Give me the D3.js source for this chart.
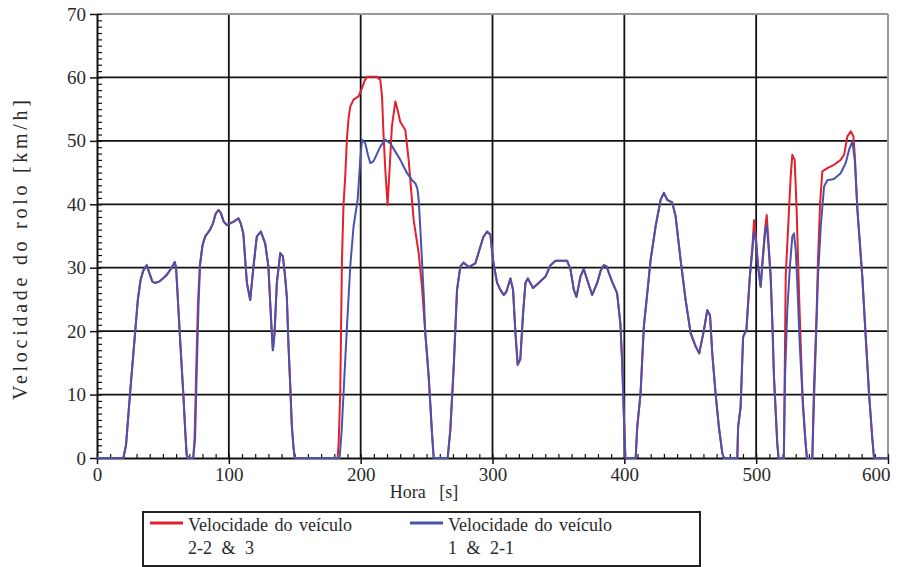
<!DOCTYPE html>
<html><head><meta charset="utf-8">
<script src="https://cdn.jsdelivr.net/npm/d3@7"></script>
<style>body{margin:0;background:#fff}svg{display:block}text{font-family:"Liberation Serif","Times New Roman",Times,"DejaVu Serif","Noto Serif",serif !important;fill:#2a2a2a}</style>
</head><body>
<svg id="c" width="898" height="567"></svg>
<script>
const xTicks = [0,100,200,300,400,500,600];
const yTicks = [0,10,20,30,40,50,60,70];
const seriesNames = ["Velocidade do veículo|2-2 & 3","Velocidade do veículo|1 & 2-1"];

// Velocidade do veículo 1 & 2-1 (blue)
const blueT = [0,20,22,25,29,31,33,35,37.7,40,42,44,47,50,53,56,59,60,61.8,63.5,65.5,67,68,69,73,74.4,75.7,77,78.2,80,82,85.8,88,90,92.1,94,96,98.5,101,104,107.3,109,111,112.5,113.7,116.2,118.7,121.2,124.3,127.6,130,131.5,132.6,133.4,134.7,136.4,139,141,142.5,144,145.2,146.5,147.8,149,150,
184,185.5,187,189.6,192.1,194.6,197.7,199.7,201,203.5,205.5,207.3,209.8,212,214.9,218.7,222.5,226.3,230.1,232.5,235.2,239,241.5,243,244,245.3,246.5,248,249,250.5,251.6,253,254.1,255.4,
266,268,270.6,273.1,275.6,278.1,282,287,290.8,293,295.9,298.4,300.4,303.5,306,308.5,310.5,313.6,315.6,317.4,319.1,321.1,323.2,325,326.8,330.8,335,340.2,344,347.8,356.6,359.2,361.7,363.7,366.7,369.2,371.8,375.6,379.4,382,384.4,386.5,388.2,390.7,394.5,397,398.4,399.6,400.8,
408.6,409.8,412.3,414.8,417.4,419.9,423.7,427.5,430,432.5,436.3,438.9,442.7,446.5,450.3,454.1,456.8,460.4,462.9,465,466.7,469.2,471.7,474.3,475.5,
485.7,486.3,488.2,490.1,492.6,495.2,497.2,498.4,499.7,501.4,503.4,504.6,506.7,508,509.2,511,512.3,513.5,516,517,
521,521.9,523.6,525.6,527.4,528.7,530,531.2,533,535,537.5,538.5,
542.6,543.7,545.3,546.9,549,551.5,554,559,564.1,567.9,570.5,573,574.8,576.8,580.5,583.1,585.6,588.2,589.4,600];
const blueV = [0,0,2,10,20,25,28,29.5,30.4,29,27.8,27.6,27.8,28.3,28.9,29.8,30.9,30,23.3,17,10,4,0.5,0,0,3,14,24,30.4,33.5,34.9,36,37,38.5,39.1,38.6,37.3,36.7,37,37.3,37.8,37,35.4,31,27.6,24.9,30.2,34.9,35.7,33.8,30.2,24,19.7,17,19.7,27.6,32.3,31.8,29,25.4,18,11.8,5,1.8,0,
0,4,10.2,20.7,30.2,36.5,40.7,47,50.2,49.6,47.8,46.5,46.8,47.8,49.1,50.2,49.6,48.3,47,46,44.9,43.8,43.3,42.5,40.7,36,31.2,25,19.7,16,12.8,8,3.9,0,
0,4.4,14.4,26.5,30.2,30.8,30.1,30.7,33.3,34.8,35.7,35.2,31.2,27.6,26.5,25.7,26.2,28.3,26.5,19.7,14.7,15.6,22.8,27.6,28.3,26.8,27.6,28.6,30.4,31.1,31.1,29.7,26.5,25.4,28.6,29.8,28.1,25.7,27.6,29.5,30.4,30.2,29.2,27.8,26,21.2,14.9,7,0,
0,4.9,10.2,20.7,26,31.2,36.5,40.7,41.8,40.7,40.3,38.1,31.2,24.9,19.7,17.6,16.5,20.2,23.3,22.5,16.5,10.2,4.9,0.8,0,
0,4.9,8,19.1,20.2,28.6,32.8,35.7,34.4,30.2,27,30.2,35.4,36.7,33.8,28.6,21.2,12.8,2.3,0,
0,12.8,23.3,30.2,34.9,35.4,32.8,27.6,18.1,10.2,2.3,0,
0,8,18.1,28.6,36.5,42.8,43.8,44,44.9,46.5,48.6,49.9,47,39.1,28.6,19.1,10.2,2.8,0,0];

// Velocidade do veículo 2-2 & 3 (red)
const redT = [0,20,22,25,29,31,33,35,37.7,40,42,44,47,50,53,56,59,60,61.8,63.5,65.5,67,68,69,73,74,75.3,76.5,78,80,82,85.8,88,90,92.1,94,96,98.5,101,104,107.3,109,111,112.5,113.7,116.2,118.7,121.2,124.3,127.6,130,131.5,132.6,133.4,134.7,136.4,139,141,142.5,144,145.2,146.5,147.8,149,150,
182.5,183.3,184.5,185.8,187,188.3,189.6,190.8,192.1,194.6,198.4,201,203,204.8,212.4,214.9,216.2,217.4,218.7,220.4,221.9,223.7,226.3,228,230,233.9,236.4,240.2,244,246.5,249,251.6,254.1,255.4,
266,268,270.6,273.1,275.6,278.1,282,287,290.8,293,295.9,298.4,300.4,303.5,306,308.5,310.5,313.6,315.6,317.4,319.1,321.1,323.2,325,326.8,330.8,335,340.2,344,347.8,356.6,359.2,361.7,363.7,366.7,369.2,371.8,375.6,379.4,382,384.4,386.5,388.2,390.7,394.5,397,398.4,399.6,400.8,
408.6,409.8,412.3,414.8,417.4,419.9,423.7,427.5,430,432.5,436.3,438.9,442.7,446.5,450.3,454.1,456.8,460.4,462.9,465,466.7,469.2,471.7,474.3,475.5,
485.7,486.3,488.2,490.1,492.6,495.2,497.2,498.4,499.7,501.4,503.4,504.6,506.7,508,509.2,511,512.3,513.5,516,517,
521,521.5,522.4,524.9,526.2,527.4,529.2,530.7,532.5,534.2,535.5,537.5,538.5,
542.6,543.7,545.9,546.9,548.5,550.2,554,559,564.1,566.7,569.2,571.8,573.8,575,576.8,580.5,583.1,585.6,588.2,589.4,600];
const redV = [0,0,2,10,20,25,28,29.5,30.4,29,27.8,27.6,27.8,28.3,28.9,29.8,30.9,30,23.3,17,10,4,0.5,0,0,3,14,24,30.4,33.5,34.9,36,37,38.5,39.1,38.6,37.3,36.7,37,37.3,37.8,37,35.4,31,27.6,24.9,30.2,34.9,35.7,33.8,30.2,24,19.7,17,19.7,27.6,32.3,31.8,29,25.4,18,11.8,5,1.8,0,
0,2.3,10.2,31.2,40,44.4,50.4,53.5,55.4,56.5,57,58.3,59.5,60.1,60.1,59.6,57,50.7,45.4,39.9,45.4,52.3,56.2,54.9,53,51.7,47,37.5,32.3,27,19.7,12.8,3.9,0,
0,4.4,14.4,26.5,30.2,30.8,30.1,30.7,33.3,34.8,35.7,35.2,31.2,27.6,26.5,25.7,26.2,28.3,26.5,19.7,14.7,15.6,22.8,27.6,28.3,26.8,27.6,28.6,30.4,31.1,31.1,29.7,26.5,25.4,28.6,29.8,28.1,25.7,27.6,29.5,30.4,30.2,29.2,27.8,26,21.2,14.9,7,0,
0,4.9,10.2,20.7,26,31.2,36.5,40.7,41.8,40.7,40.3,38.1,31.2,24.9,19.7,17.6,16.5,20.2,23.3,22.5,16.5,10.2,4.9,0.8,0,
0,4.9,8,19.1,20.2,28.6,33.5,37.5,35,30.5,27,30.5,36,38.3,34.5,28.6,21.2,12.8,2.3,0,
0,10,28.6,39.1,44.4,47.8,47,39.1,26,15.5,8,2.3,0,
0,10.2,23.3,31.2,40.2,45.2,45.7,46.2,47,47.8,50.7,51.5,50.7,47,39.1,28.6,19.1,10.2,2.8,0,0];

const svg = d3.select("#c");
const L=97, R=888, T=14, B=458;
const x = d3.scaleLinear().domain([0,600]).range([L,R]);
const y = d3.scaleLinear().domain([0,70]).range([B,T]);
const FONT = '"Liberation Serif","Times New Roman",Times,"DejaVu Serif","Noto Serif",serif';

// grid
const g = svg.append("g");
g.selectAll(".vg").data(xTicks.filter(d=>d>0&&d<600)).enter().append("line")
  .attr("x1",d=>x(d)).attr("x2",d=>x(d)).attr("y1",T).attr("y2",B)
  .attr("stroke","#111").attr("stroke-width",1.8);
g.selectAll(".hg").data(yTicks.filter(d=>d>0&&d<70)).enter().append("line")
  .attr("x1",L).attr("x2",R).attr("y1",d=>y(d)).attr("y2",d=>y(d))
  .attr("stroke","#111").attr("stroke-width",1.8);
svg.append("line").attr("x1",L).attr("x2",R).attr("y1",T).attr("y2",T).attr("stroke","#999").attr("stroke-width",2);
svg.append("line").attr("x1",R).attr("x2",R).attr("y1",T).attr("y2",B).attr("stroke","#999").attr("stroke-width",2);

// minor ticks
svg.append("g").attr("transform",`translate(${L},0)`)
  .call(d3.axisRight(y).tickValues(d3.range(0,71,1)).tickSize(5).tickFormat(""))
  .call(s=>s.select(".domain").remove())
  .call(s=>s.selectAll("line").attr("stroke","#111").attr("stroke-width",1.2));
svg.append("g").attr("transform",`translate(0,${B})`)
  .call(d3.axisTop(x).tickValues(d3.range(0,601,10)).tickSize(4).tickFormat(""))
  .call(s=>s.select(".domain").remove())
  .call(s=>s.selectAll("line").attr("stroke","#111").attr("stroke-width",1.2));

// major axes
const ya = svg.append("g").attr("transform",`translate(${L},0)`)
  .call(d3.axisLeft(y).tickValues(yTicks).tickSize(7).tickPadding(4).tickSizeOuter(0));
ya.attr("font-family",FONT);
ya.select(".domain").attr("stroke","#111").attr("stroke-width",2);
ya.selectAll("line").attr("stroke","#111").attr("stroke-width",1.5);
ya.selectAll("text").attr("font-size",19).attr("fill","#333");

const xa = svg.append("g").attr("transform",`translate(0,${B})`)
  .call(d3.axisBottom(x).tickValues(xTicks).tickSize(6).tickPadding(4).tickSizeOuter(0));
xa.attr("font-family",FONT);
xa.select(".domain").attr("stroke","#111").attr("stroke-width",2);
xa.selectAll("line").attr("stroke","#111").attr("stroke-width",1.5);
xa.selectAll("text").attr("font-size",19).attr("fill","#333");
xa.selectAll(".tick").filter(d=>d===600).select("text").attr("text-anchor","end").attr("dx",2);

// lines
const line = d3.line().x(d=>x(d[0])).y(d=>y(d[1]));
const redData = redT.map((t,i)=>[t,redV[i]]);
const blueData = blueT.map((t,i)=>[t,blueV[i]]);
svg.append("path").datum(redData).attr("d",line).attr("fill","none").attr("stroke","#e3202b").attr("stroke-width",2).attr("stroke-linejoin","round");
svg.append("path").datum(blueData).attr("d",line).attr("fill","none").attr("stroke","#4b52ad").attr("stroke-width",2).attr("stroke-linejoin","round");

// axis titles
svg.append("text").attr("x",424).attr("y",498).attr("text-anchor","middle").attr("font-size",18)
  .attr("word-spacing",9).text("Hora [s]");
svg.append("text").attr("transform","translate(27,250) rotate(-90)").attr("text-anchor","middle")
  .attr("font-size",20).attr("textLength",300).attr("lengthAdjust","spacing").text("Velocidade do rolo [km/h]");

// legend
const lg = svg.append("g");
lg.append("rect").attr("x",143).attr("y",512).attr("width",557).attr("height",54).attr("fill","#fff").attr("stroke","#222").attr("stroke-width",2);
const lcol = ["#e3202b","#4b52ad"];
const lx = [150,410];
seriesNames.forEach((n,i)=>{
  const parts = n.split("|");
  lg.append("line").attr("x1",lx[i]).attr("x2",lx[i]+33).attr("y1",523).attr("y2",523).attr("stroke",lcol[i]).attr("stroke-width",3);
  lg.append("text").attr("x",lx[i]+38).attr("y",531).attr("font-size",18).attr("word-spacing",2).text(parts[0]);
  lg.append("text").attr("x",lx[i]+38).attr("y",554).attr("font-size",18).attr("word-spacing",5).text(parts[1]);
});
</script>
</body></html>
